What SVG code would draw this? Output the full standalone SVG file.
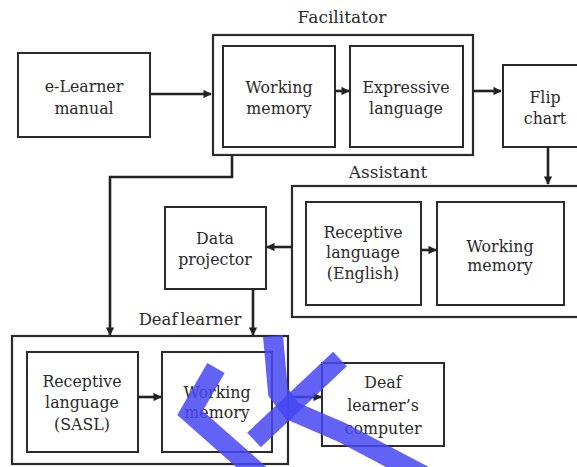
<svg xmlns="http://www.w3.org/2000/svg" width="577" height="467" viewBox="0 0 577 467">
<style>
.box{fill:none;stroke:#2b2b2b;stroke-width:2}
.outer{fill:none;stroke:#2b2b2b;stroke-width:2.2}
.t{font-family:"DejaVu Serif","Liberation Serif",serif;font-size:15.8px;fill:#2a2a2a;text-anchor:middle}
.title{font-family:"DejaVu Serif","Liberation Serif",serif;font-size:17px;fill:#2a2a2a;text-anchor:middle}
.c{fill:none;stroke:#222;stroke-width:2.6}
.wm{fill:none;stroke:#4747f2;stroke-width:20;stroke-opacity:0.85;stroke-linejoin:miter}
</style>
<defs>
<marker id="ah" viewBox="0 0 10 10" refX="9" refY="5" markerWidth="3.6" markerHeight="3.2" orient="auto" markerUnits="strokeWidth">
<path d="M0,0 L10,5 L0,10 Z" fill="#222"/>
</marker>
</defs>
<rect width="577" height="467" fill="#ffffff"/>

<g id="elearner-manual">
<rect class="box" x="18" y="53" width="132" height="84"/>
<text class="t" x="84" y="92">e-Learner</text>
<text class="t" x="84" y="114">manual</text>
</g>

<g id="facilitator">
<rect class="outer" x="213" y="35" width="260" height="120"/>
<text class="title" x="342" y="23">Facilitator</text>
</g>
<g id="fac-working-memory">
<rect class="box" x="223" y="46" width="112" height="101"/>
<text class="t" x="279" y="93">Working</text>
<text class="t" x="279" y="114">memory</text>
</g>
<g id="fac-expressive-language">
<rect class="box" x="350" y="46" width="113" height="101"/>
<text class="t" x="406" y="93">Expressive</text>
<text class="t" x="406" y="114">language</text>
</g>

<g id="flip-chart">
<rect class="box" x="503" y="65" width="90" height="82"/>
<text class="t" x="545" y="103">Flip</text>
<text class="t" x="545" y="124">chart</text>
</g>

<g id="assistant">
<rect class="outer" x="292" y="186" width="300" height="131"/>
<text class="title" x="388" y="178">Assistant</text>
</g>
<g id="asst-receptive-language">
<rect class="box" x="306" y="202" width="115" height="103"/>
<text class="t" x="363" y="238">Receptive</text>
<text class="t" x="363" y="258">language</text>
<text class="t" x="363" y="279">(English)</text>
</g>
<g id="asst-working-memory">
<rect class="box" x="437" y="202" width="127" height="103"/>
<text class="t" x="500" y="252">Working</text>
<text class="t" x="500" y="271">memory</text>
</g>

<g id="data-projector">
<rect class="box" x="165" y="207" width="101" height="82"/>
<text class="t" x="215" y="244">Data</text>
<text class="t" x="215" y="265">projector</text>
</g>

<g id="deaf-learner">
<rect class="outer" x="12" y="336" width="276" height="128"/>
<text class="title" x="190" y="325" style="font-size:16.5px;word-spacing:-2.5px">Deaf learner</text>
</g>
<g id="dl-receptive-language">
<rect class="box" x="27" y="352" width="111" height="100"/>
<text class="t" x="82" y="387">Receptive</text>
<text class="t" x="82" y="408">language</text>
<text class="t" x="82" y="430">(SASL)</text>
</g>
<g id="dl-working-memory">
<rect class="box" x="162" y="352" width="110" height="100"/>
<text class="t" x="217" y="398">Working</text>
<text class="t" x="217" y="418">memory</text>
</g>

<g id="deaf-learners-computer">
<rect class="box" x="322" y="363" width="122" height="83"/>
<text class="t" x="383" y="388">Deaf</text>
<text class="t" x="383" y="411">learner’s</text>
<text class="t" x="383" y="434">computer</text>
</g>

<g id="connectors">
<line class="c" x1="150" y1="94" x2="211" y2="94" marker-end="url(#ah)"/>
<line class="c" x1="335" y1="91" x2="349" y2="91" marker-end="url(#ah)"/>
<line class="c" x1="473" y1="91" x2="501" y2="91" marker-end="url(#ah)"/>
<line class="c" x1="548" y1="147" x2="548" y2="184" marker-end="url(#ah)"/>
<line class="c" x1="421" y1="250" x2="436" y2="250" marker-end="url(#ah)"/>
<line class="c" x1="292" y1="247" x2="267" y2="247" marker-end="url(#ah)"/>
<line class="c" x1="253" y1="289" x2="253" y2="335" marker-end="url(#ah)"/>
<polyline class="c" points="232,155 232,177 110,177 110,335" marker-end="url(#ah)"/>
<line class="c" x1="138" y1="397" x2="161" y2="397" marker-end="url(#ah)"/>
<line class="c" x1="288" y1="397" x2="321" y2="397" marker-end="url(#ah)"/>
</g>

<g id="watermark">
<polyline class="wm" points="216,368 190,413 266,480"/>
<polyline class="wm" points="273,336 278,392 292,411 341,432 432,480"/>
<line class="wm" x1="340" y1="359" x2="254" y2="440"/>
</g>
</svg>
